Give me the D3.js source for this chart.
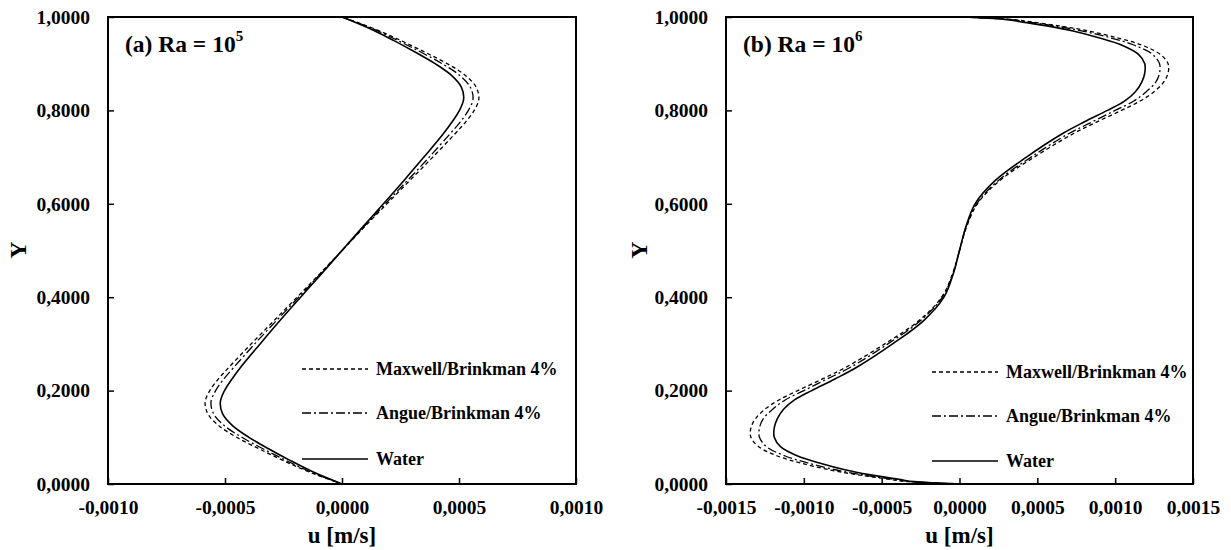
<!DOCTYPE html>
<html>
<head>
<meta charset="utf-8">
<script src="https://cdn.jsdelivr.net/npm/d3@7"></script>
<style>
  body { margin: 0; background: #fff; }
  svg text { font-family: "Liberation Serif", "Times New Roman", serif; font-weight: bold; fill: #000; }
</style>
</head>
<body>
<svg id="chart" width="1231" height="550"></svg>
<script>
// ---- data (u in 1e-4 m/s, Y dimensionless) ----
var yA = [0, 0.025, 0.05, 0.075, 0.1, 0.125, 0.15, 0.175, 0.2, 0.225, 0.25, 0.3, 0.35, 0.4, 0.45, 0.5,
          0.55, 0.6, 0.65, 0.7, 0.75, 0.775, 0.8, 0.825, 0.85, 0.875, 0.9, 0.925, 0.95, 0.975, 1];
var waterA   = [0, -1.2, -2.2, -3.12, -3.98, -4.68, -5.1, -5.2, -5.02, -4.7, -4.33, -3.5, -2.65, -1.77, -0.88, 0,
                0.88, 1.77, 2.65, 3.5, 4.33, 4.7, 5.02, 5.2, 5.1, 4.68, 3.98, 3.12, 2.2, 1.2, 0];
var maxwellA = [0, -1.37, -2.5, -3.53, -4.5, -5.27, -5.73, -5.85, -5.65, -5.28, -4.83, -3.88, -2.9, -1.92, -0.95, 0,
                0.95, 1.92, 2.9, 3.88, 4.83, 5.28, 5.65, 5.85, 5.73, 5.27, 4.5, 3.53, 2.5, 1.37, 0];
var angueA   = [0, -1.3, -2.37, -3.36, -4.28, -5.03, -5.48, -5.6, -5.4, -5.05, -4.62, -3.73, -2.8, -1.85, -0.92, 0,
                0.92, 1.85, 2.8, 3.73, 4.62, 5.05, 5.4, 5.6, 5.48, 5.03, 4.28, 3.36, 2.37, 1.3, 0];

var yB = [0, 0.005, 0.01, 0.02, 0.03, 0.045, 0.06, 0.08, 0.1, 0.12, 0.14, 0.16, 0.18, 0.2, 0.225, 0.25, 0.3, 0.35, 0.4, 0.45, 0.5,
          0.55, 0.6, 0.65, 0.7, 0.75, 0.775, 0.8, 0.82, 0.84, 0.86, 0.88, 0.9, 0.92, 0.94, 0.955, 0.97, 0.98, 0.99, 0.995, 1];
var waterB   = [0, -2.9, -3.9, -5.8, -7.3, -9.0, -10.4, -11.5, -11.9, -11.9, -11.7, -11.3, -10.6, -9.5, -8.0, -6.6, -4.3, -2.3, -1.0, -0.4, 0,
                0.4, 1.0, 2.3, 4.3, 6.6, 8.0, 9.5, 10.6, 11.3, 11.7, 11.9, 11.9, 11.5, 10.4, 9.0, 7.3, 5.8, 3.9, 2.9, 0];
var maxwellB = [0, -3.3, -4.5, -6.6, -8.3, -10.2, -11.7, -12.9, -13.4, -13.4, -13.1, -12.5, -11.6, -10.4, -8.8, -7.3, -4.8, -2.6, -1.15, -0.45, 0,
                0.45, 1.15, 2.6, 4.8, 7.3, 8.8, 10.4, 11.6, 12.5, 13.1, 13.4, 13.4, 12.9, 11.7, 10.2, 8.3, 6.6, 4.5, 3.3, 0];
var angueB   = [0, -3.15, -4.3, -6.3, -7.9, -9.75, -11.2, -12.4, -12.85, -12.85, -12.6, -12.0, -11.2, -10.0, -8.5, -7.0, -4.6, -2.5, -1.1, -0.42, 0,
                0.42, 1.1, 2.5, 4.6, 7.0, 8.5, 10.0, 11.2, 12.0, 12.6, 12.85, 12.85, 12.4, 11.2, 9.75, 7.9, 6.3, 4.3, 3.15, 0];
var uScale = 1e-4;

var ticksXA = [-0.001, -0.0005, 0, 0.0005, 0.001];
var ticksXB = [-0.0015, -0.001, -0.0005, 0, 0.0005, 0.001, 0.0015];
var ticksY = [0, 0.2, 0.4, 0.6, 0.8, 1];

var seriesNames = ["Maxwell/Brinkman 4%", "Angue/Brinkman 4%", "Water"];
var dashes = ["4,3", "9,3,2,3", null];

var svg = d3.select("#chart");

function fmt(d) {
  var s = Math.abs(d).toFixed(4).replace(".", ",");
  return (d < 0 ? "-" : "") + s;
}

function drawPanel(opt) {
  var x = d3.scaleLinear().domain(opt.xDomain).range([opt.left, opt.right]);
  var y = d3.scaleLinear().domain([0, 1]).range([484, 17]);
  var g = svg.append("g");

  // curves
  var line = d3.line()
      .x(function(d) { return x(d[0]); })
      .y(function(d) { return y(d[1]); })
      .curve(d3.curveCatmullRom.alpha(0.5));
  opt.series.forEach(function(s, i) {
    var pts = s.map(function(v, k) { return [v * uScale, opt.yv[k]]; });
    g.append("path")
      .attr("d", line(pts))
      .attr("fill", "none")
      .attr("stroke", "#000")
      .attr("stroke-width", i == 2 ? 1.6 : 1.3)
      .attr("stroke-dasharray", dashes[i]);
  });

  // axes
  var xAxis = d3.axisBottom(x).tickValues(opt.xTicks).tickSizeInner(-6).tickSizeOuter(0).tickPadding(16).tickFormat(fmt);
  var gx = g.append("g").attr("transform", "translate(0,484)").call(xAxis);
  var yAxis = d3.axisLeft(y).tickValues(ticksY).tickSizeInner(-6).tickSizeOuter(0).tickPadding(18).tickFormat(fmt);
  var gy = g.append("g").attr("transform", "translate(" + opt.left + ",0)").call(yAxis);
  [gx, gy].forEach(function(a) {
    a.select(".domain").remove();
    a.selectAll("line").attr("stroke", "#000").attr("stroke-width", 1.5);
    a.selectAll("text").style("font-size", "19.5px").attr("fill", "#000");
  });

  // box
  g.append("rect")
    .attr("x", opt.left).attr("y", 17)
    .attr("width", opt.right - opt.left).attr("height", 467)
    .attr("fill", "none").attr("stroke", "#000").attr("stroke-width", 2);

  // axis titles
  g.append("text")
    .attr("x", (opt.left + opt.right) / 2).attr("y", 543)
    .attr("text-anchor", "middle").style("font-size", "23px")
    .text("u [m/s]");
  g.append("text")
    .attr("transform", "translate(" + opt.yTitleX + ",250)rotate(-90)")
    .attr("text-anchor", "middle").style("font-size", "24px")
    .text("Y");

  // panel title
  var t = g.append("text").attr("x", opt.left + 17).attr("y", 52).style("font-size", "23.5px");
  t.append("tspan").text(opt.label + " Ra = 10");
  t.append("tspan").attr("dy", -11).style("font-size", "15px").text(opt.exp);

  // legend
  seriesNames.forEach(function(name, i) {
    var ly = opt.legendY[i];
    g.append("line")
      .attr("x1", opt.legendX).attr("x2", opt.legendX + 66)
      .attr("y1", ly).attr("y2", ly)
      .attr("stroke", "#000").attr("stroke-width", 1.3)
      .attr("stroke-dasharray", dashes[i]);
    g.append("text")
      .attr("x", opt.legendX + 74).attr("y", ly + 6)
      .style("font-size", "18px")
      .text(name);
  });
}

drawPanel({
  left: 108, right: 576, xDomain: [-0.001, 0.001], xTicks: ticksXA,
  yv: yA, series: [maxwellA, angueA, waterA], yTitleX: 26,
  label: "(a)", exp: "5", legendX: 302, legendY: [369, 413, 459]
});
drawPanel({
  left: 726, right: 1193, xDomain: [-0.0015, 0.0015], xTicks: ticksXB,
  yv: yB, series: [maxwellB, angueB, waterB], yTitleX: 647,
  label: "(b)", exp: "6", legendX: 932, legendY: [372, 416, 461]
});
</script>
</body>
</html>
